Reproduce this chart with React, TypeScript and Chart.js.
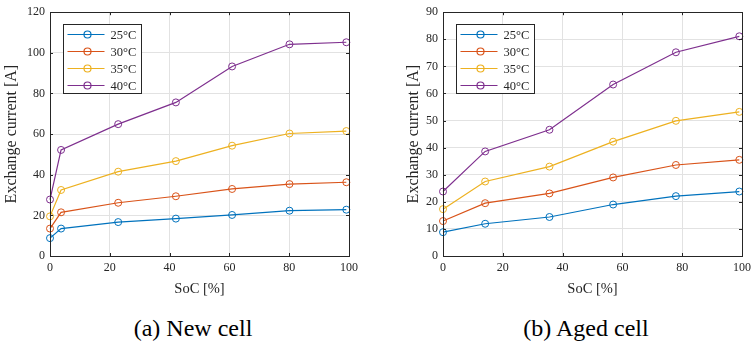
import React, { useEffect, useRef } from 'react';
import { Chart, registerables } from 'chart.js';

Chart.register(...registerables);

// ---- Data ----
const temperatureLabels = ['25°C', '30°C', '35°C', '40°C'];
const seriesColors = ['#0072BD', '#D95319', '#EDB120', '#7E2F8E'];

const newSoc = [0, 3.7, 22.8, 42.1, 60.9, 80.1, 99.1];
const new25 = [8.8, 13.5, 16.7, 18.4, 20.2, 22.3, 22.8];
const new30 = [13.5, 21.5, 26.2, 29.4, 33.0, 35.4, 36.3];
const new35 = [19.5, 32.5, 41.5, 46.7, 54.3, 60.3, 61.5];
const new40 = [27.8, 52.2, 64.9, 75.6, 93.3, 104.2, 105.2];

const agedSoc = [0, 14.1, 35.6, 56.9, 77.9, 99.1];
const aged25 = [8.8, 11.9, 14.4, 19.0, 22.1, 23.8];
const aged30 = [12.9, 19.5, 23.1, 29.0, 33.6, 35.5];
const aged35 = [17.3, 27.5, 33.0, 42.2, 49.9, 53.2];
const aged40 = [23.8, 38.6, 46.6, 63.3, 75.2, 81.1];

const xTitle = 'SoC [%]';
const yTitle = 'Exchange current [A]';
const captionA = '(a) New cell';
const captionB = '(b) Aged cell';

const FONT = '"Liberation Serif"';
const AXIS_COLOR = '#262626';

const matlabPlugin = {
  id: 'matlabBox',
  afterDatasetsDraw(chart: any) {
    const { ctx, chartArea: a, scales } = chart;
    ctx.save();
    ctx.strokeStyle = AXIS_COLOR;
    ctx.lineWidth = 1;
    const xs = scales.x;
    const ys = scales.y;
    ctx.beginPath();
    xs.ticks.forEach((t: any) => {
      const px = Math.round(xs.getPixelForValue(t.value)) + 0.5;
      ctx.moveTo(px, a.bottom);
      ctx.lineTo(px, a.bottom - 3);
      ctx.moveTo(px, a.top);
      ctx.lineTo(px, a.top + 3);
    });
    ys.ticks.forEach((t: any) => {
      const py = Math.round(ys.getPixelForValue(t.value)) + 0.5;
      ctx.moveTo(a.left, py);
      ctx.lineTo(a.left + 3, py);
      ctx.moveTo(a.right, py);
      ctx.lineTo(a.right - 3, py);
    });
    ctx.stroke();
    ctx.strokeRect(Math.round(a.left) + 0.5, Math.round(a.top) + 0.5, Math.round(a.right - a.left), Math.round(a.bottom - a.top));

    // legend
    const bx = Math.round(a.left + 13) + 0.5;
    const by = Math.round(a.top + 12) + 0.5;
    const bw = 78;
    const bh = 69;
    ctx.fillStyle = '#ffffff';
    ctx.fillRect(bx, by, bw, bh);
    ctx.strokeStyle = AXIS_COLOR;
    ctx.lineWidth = 1;
    ctx.strokeRect(bx, by, bw, bh);
    chart.data.datasets.forEach((ds: any, i: number) => {
      const cy = by + 10 + i * 17;
      ctx.strokeStyle = ds.borderColor;
      ctx.lineWidth = 1.2;
      ctx.beginPath();
      ctx.moveTo(bx + 4, cy);
      ctx.lineTo(bx + 41, cy);
      ctx.stroke();
      ctx.beginPath();
      ctx.arc(bx + 24, cy, 3.5, 0, Math.PI * 2);
      ctx.stroke();
      ctx.fillStyle = AXIS_COLOR;
      ctx.font = `12.5px ${FONT}`;
      ctx.textBaseline = 'middle';
      ctx.textAlign = 'left';
      ctx.fillText(ds.label, bx + 47, cy + 1);
    });
    ctx.restore();
  },
};

function buildConfig(xs: number[], series: number[][], yMax: number, yStep: number, padLeft: number, yWidth: number, padRight: number): any {
  return {
    type: 'line',
    data: {
      datasets: series.map((vals, i) => ({
        label: temperatureLabels[i],
        data: vals.map((v, j) => ({ x: xs[j], y: v })),
        borderColor: seriesColors[i],
        backgroundColor: 'rgba(0,0,0,0)',
        borderWidth: 1.2,
        pointRadius: 3.5,
        pointBorderWidth: 1,
        pointBackgroundColor: 'rgba(0,0,0,0)',
        pointBorderColor: seriesColors[i],
        tension: 0,
        clip: false,
      })),
    },
    options: {
      responsive: false,
      animation: false,
      devicePixelRatio: 1,
      font: { family: FONT },
      layout: { padding: { left: padLeft, right: padRight, top: 10, bottom: 0 } },
      plugins: { legend: { display: false }, tooltip: { enabled: false } },
      scales: {
        x: {
          type: 'linear',
          min: 0,
          max: 100,
          ticks: { stepSize: 20, color: AXIS_COLOR, padding: 5, font: { family: FONT, size: 12 } },
          grid: { color: '#e2e2e2', lineWidth: 1, drawTicks: false },
          border: { display: false },
          title: { display: true, text: xTitle, color: AXIS_COLOR, padding: { top: 0, bottom: 2 }, font: { family: FONT, size: 14.5 } },
          afterFit(scale: any) {
            scale.height = 44;
            scale.paddingLeft = 0;
            scale.paddingRight = 0;
          },
        },
        y: {
          type: 'linear',
          min: 0,
          max: yMax,
          ticks: { stepSize: yStep, color: AXIS_COLOR, padding: 5, font: { family: FONT, size: 12 } },
          grid: { color: '#e2e2e2', lineWidth: 1, drawTicks: false },
          border: { display: false },
          title: { display: true, text: yTitle, color: AXIS_COLOR, padding: { top: 2, bottom: 0 }, font: { family: FONT, size: 16 } },
          afterFit(scale: any) {
            scale.width = yWidth;
          },
        },
      },
    },
    plugins: [matlabPlugin],
  };
}

function ChartCanvas({ config, width, height, left }: { config: any; width: number; height: number; left: number }) {
  const ref = useRef<HTMLCanvasElement | null>(null);
  useEffect(() => {
    if (!ref.current) return;
    const chart = new Chart(ref.current, config);
    return () => chart.destroy();
  }, [config]);
  return (
    <canvas
      ref={ref}
      width={width}
      height={height}
      style={{ position: 'absolute', left, top: 0, width, height }}
    />
  );
}

const configA = buildConfig(newSoc, [new25, new30, new35, new40], 120, 20, 0, 50, 27);
const configB = buildConfig(agedSoc, [aged25, aged30, aged35, aged40], 90, 10, 26, 41, 19);

export default function App() {
  const captionStyle: React.CSSProperties = {
    position: 'absolute',
    top: 316,
    width: 200,
    textAlign: 'center',
    fontFamily: '"Liberation Serif"',
    fontSize: 24,
    lineHeight: '24px',
    color: '#000',
    whiteSpace: 'nowrap',
  };
  return (
    <div style={{ position: 'fixed', left: 0, top: 0, width: 751, height: 342, overflow: 'hidden', background: '#fff' }}>
      <ChartCanvas config={configA} width={376} height={300} left={0} />
      <ChartCanvas config={configB} width={385} height={300} left={376} />
      <div style={{ ...captionStyle, left: 93 }}>{captionA}</div>
      <div style={{ ...captionStyle, left: 486 }}>{captionB}</div>
    </div>
  );
}
